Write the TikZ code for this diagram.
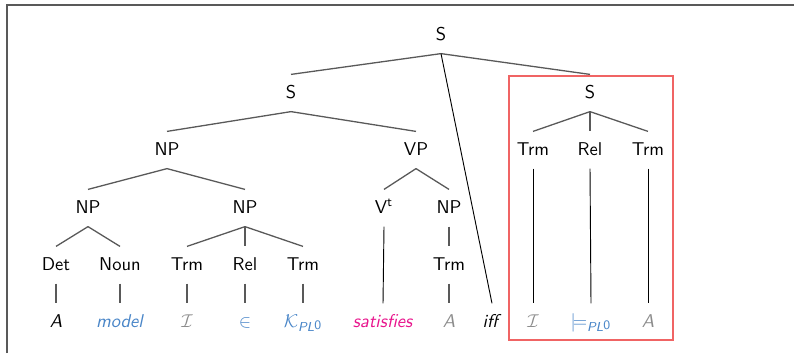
\documentclass[tikz,border=0pt]{standalone}
\usepackage{amsmath}
\usepackage{amssymb}
\usepackage{tikz}
\renewcommand{\familydefault}{\sfdefault}
\newcommand{\treeunit}{0.54pt}
\newcommand{\plzero}{\text{\itshape PL\raisebox{0.35ex}{\upshape 0}}}
\newcommand{\branch}[3][edge]{
	\draw[#1] (#2.south) -- (#3.north);
}
\definecolor{leafblue}{RGB}{74,134,200}
\definecolor{leafgray}{RGB}{140,140,140}
\definecolor{leafpink}{RGB}{232,20,140}
\definecolor{boxred}{RGB}{240,100,100}
\tikzset{
	cat/.style={font=\sffamily, text height=7pt, text depth=1.1pt, inner ysep=5.8pt, inner xsep=1pt},
	edge/.style={black!65, line width=0.7pt},
	long/.style={black, line width=0.5pt},
	frame/.style={black!65, line width=0.6pt},
}

\begin{document}
\begin{tikzpicture}[x=\treeunit,y=-\treeunit]
	\useasboundingbox (0,0) rectangle (794,353);
	\draw[frame] (7,353) -- (7,5) -- (794,5);

	\node[cat] (s) at (441,35) {S};
	\node[cat] (sl) at (291,93) {S};
	\node[cat] (sr) at (590,93) {S};
	\node[cat] (np) at (167,150) {NP};
	\node[cat] (vp) at (416,150) {VP};
	\node[cat] (trma) at (533,150) {Trm};
	\node[cat] (rela) at (590,150) {Rel};
	\node[cat] (trmb) at (648,150) {Trm};
	\node[cat] (npa) at (88,208) {NP};
	\node[cat] (npb) at (245,208) {NP};
	\node[cat] (vt) at (384,208) {V$^{\text{t}}$};
	\node[cat] (npc) at (449,208) {NP};
	\node[cat] (det) at (56,265) {Det};
	\node[cat] (noun) at (120,265) {Noun};
	\node[cat] (trmc) at (187,265) {Trm};
	\node[cat] (relb) at (245,265) {Rel};
	\node[cat] (trmd) at (303,265) {Trm};
	\node[cat] (trme) at (449,265) {Trm};

	\node[cat] (wa) at (56,322) {\textit{A}};
	\node[cat, leafblue] (wmodel) at (120,322) {\textit{model}};
	\node[cat, leafgray] (wi) at (187,322) {$\mathcal{I}$};
	\node[cat, leafblue] (win) at (245,322) {$\in$};
	\node[cat, leafblue] (wk) at (303,322) {$\mathcal{K}_{\plzero}$};
	\node[cat, leafpink] (wsat) at (383,322) {\textit{satisfies}};
	\node[cat, leafgray] (wb) at (449,322) {\textit{A}};
	\node[cat] (wiff) at (492,322) {\textit{iff}};
	\node[cat, leafgray] (wj) at (533,322) {$\mathcal{I}$};
	\node[cat, leafblue] (wmod) at (591,322) {$\models_{\plzero}$};
	\node[cat, leafgray] (wc) at (648,322) {\textit{A}};

	\branch{s}{sl}
	\branch{s}{sr}
	\branch[long]{s}{wiff}
	\branch{sl}{np}
	\branch{sl}{vp}
	\branch{sr}{trma}
	\branch{sr}{rela}
	\branch{sr}{trmb}
	\branch{np}{npa}
	\branch{np}{npb}
	\branch{vp}{vt}
	\branch{vp}{npc}
	\branch{npa}{det}
	\branch{npa}{noun}
	\branch{npb}{trmc}
	\branch{npb}{relb}
	\branch{npb}{trmd}
	\branch{npc}{trme}
	\branch{det}{wa}
	\branch{noun}{wmodel}
	\branch{trmc}{wi}
	\branch{relb}{win}
	\branch{trmd}{wk}
	\branch[long]{vt}{wsat}
	\branch{trme}{wb}
	\branch[long]{trma}{wj}
	\branch[long]{rela}{wmod}
	\branch[long]{trmb}{wc}

	\draw[boxred, line width=0.7pt] (509,76) rectangle (673,340);
\end{tikzpicture}
\end{document}
